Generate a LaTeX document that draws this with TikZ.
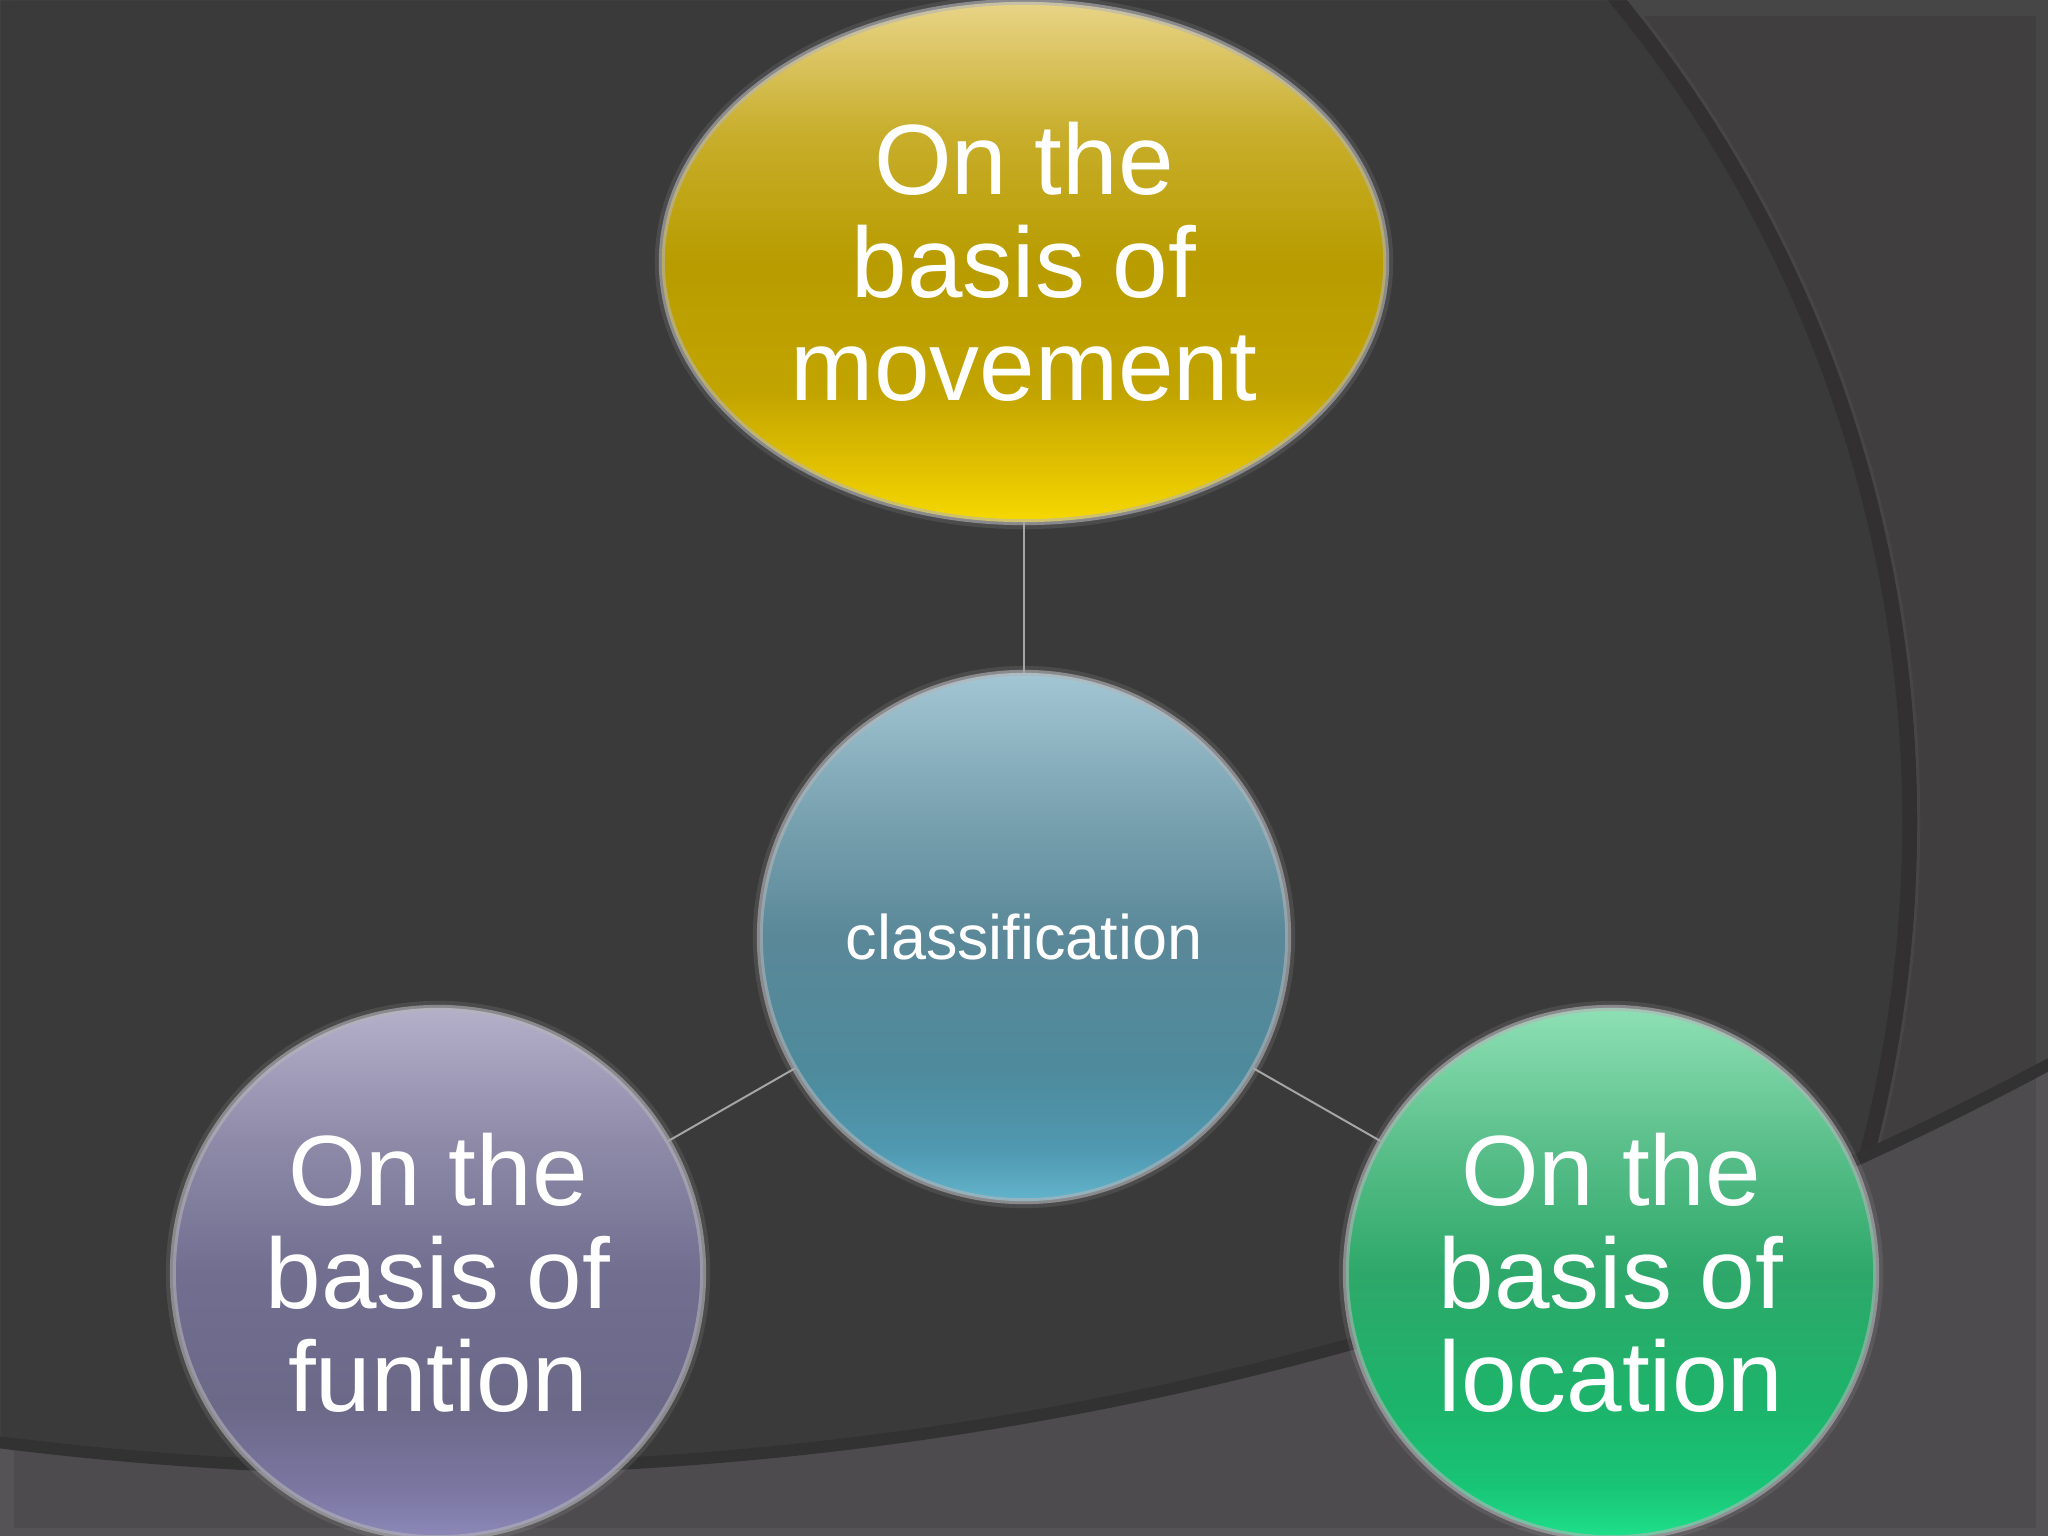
\documentclass[tikz,border=0pt]{standalone}
\usepackage{fontspec}
\setmainfont{Liberation Sans}
\usetikzlibrary{shapes.geometric}

\definecolor{bgdark}{HTML}{3B3A3B}
\definecolor{bgright}{HTML}{403E3F}
\definecolor{stripc}{HTML}{474647}
\definecolor{arcc}{HTML}{323030}
\definecolor{bandc}{HTML}{4D4B4E}
\definecolor{bandstrip}{HTML}{555355}
\definecolor{edgec}{HTML}{333232}
\definecolor{connc}{HTML}{A5A5A5}
\definecolor{ringc}{HTML}{B4B4B8}

% gold
\definecolor{goldA}{HTML}{E8D488}
\definecolor{goldB}{HTML}{C8AE2C}
\definecolor{goldC}{HTML}{B89C00}
\definecolor{goldD}{HTML}{C2A400}
\definecolor{goldE}{HTML}{E2C200}
\definecolor{goldF}{HTML}{F7D900}
% blue
\definecolor{blueA}{HTML}{A3C6D4}
\definecolor{blueB}{HTML}{7CA4B2}
\definecolor{blueC}{HTML}{5A8898}
\definecolor{blueD}{HTML}{4E8A9C}
\definecolor{blueE}{HTML}{4F98B0}
\definecolor{blueF}{HTML}{62B4CC}
% purple
\definecolor{purA}{HTML}{B4B0CA}
\definecolor{purB}{HTML}{8E8AA8}
\definecolor{purC}{HTML}{726E90}
\definecolor{purD}{HTML}{6C6888}
\definecolor{purE}{HTML}{7A76A0}
\definecolor{purF}{HTML}{8C88B8}
% green
\definecolor{grnA}{HTML}{8EE0B4}
\definecolor{grnB}{HTML}{5CC08C}
\definecolor{grnC}{HTML}{2EA86A}
\definecolor{grnD}{HTML}{1CB46A}
\definecolor{grnE}{HTML}{18C476}
\definecolor{grnF}{HTML}{1EE08A}

\pgfdeclareverticalshading{goldsh}{100bp}{color(0bp)=(goldF); color(25bp)=(goldF); color(30bp)=(goldE); color(37.5bp)=(goldD); color(50bp)=(goldC); color(62.5bp)=(goldB); color(75bp)=(goldA); color(100bp)=(goldA)}
\pgfdeclareverticalshading{bluesh}{100bp}{color(0bp)=(blueF); color(25bp)=(blueF); color(30bp)=(blueE); color(37.5bp)=(blueD); color(50bp)=(blueC); color(62.5bp)=(blueB); color(75bp)=(blueA); color(100bp)=(blueA)}
\pgfdeclareverticalshading{pursh}{100bp}{color(0bp)=(purF); color(25bp)=(purF); color(30bp)=(purE); color(37.5bp)=(purD); color(50bp)=(purC); color(62.5bp)=(purB); color(75bp)=(purA); color(100bp)=(purA)}
\pgfdeclareverticalshading{grnsh}{100bp}{color(0bp)=(grnF); color(25bp)=(grnF); color(30bp)=(grnE); color(37.5bp)=(grnD); color(50bp)=(grnC); color(62.5bp)=(grnB); color(75bp)=(grnA); color(100bp)=(grnA)}

\tikzset{
  bubble/.style={circle, minimum size=5.3cm, inner sep=0pt, outer sep=0pt,
    shade, draw=ringc, draw opacity=0.6, line width=0.06cm,
    preaction={draw=ringc, draw opacity=0.14, line width=0.14cm},
    text=white, align=center, font=\fontsize{28.4}{29.3}\selectfont},
  conn/.style={draw=connc, line width=0.02cm}
}

\begin{document}
\begin{tikzpicture}[x=0.01cm, y=-0.01cm]
\useasboundingbox (0,0) rectangle (2048,1536);

% ---------- background ----------
\begin{scope}
  \clip (0,0) rectangle (2048,1536);
  \fill[bgdark] (0,0) rectangle (2048,1536);
  \fill[bgright, even odd rule] (0,0) rectangle (2048,1536) (608,822) circle[radius=13.01cm];
  \begin{scope}[even odd rule]
    \clip (0,0) rectangle (2048,1536) (608,822) circle[radius=13.01cm];
    \fill[stripc] (0,0) rectangle (2048,16);
    \fill[stripc] (2036,0) rectangle (2048,1536);
  \end{scope}
  \draw[arcc, line width=0.15cm] (608,822) circle[radius=13.01cm];
  \draw[stripc, line width=0.03cm] (608,822) circle[radius=13.1cm];
  % lower band
  \fill[bandc, even odd rule] (0,0) rectangle (2048,1536) (430,-1967) circle[radius=34.34cm];
  \begin{scope}[even odd rule]
    \clip (0,0) rectangle (2048,1536) (430,-1967) circle[radius=34.34cm];
    \fill[bandstrip] (0,0) rectangle (14,1536);
    \fill[bandstrip] (2036,0) rectangle (2048,1536);
    \fill[bandstrip] (0,1528) rectangle (2048,1536);
  \end{scope}
  \draw[edgec, line width=0.12cm] (430,-1967) circle[radius=34.34cm];
\end{scope}

% ---------- nodes ----------
\node[bubble, ellipse, minimum width=7.24cm, minimum height=5.2cm, shading=goldsh]
  (move) at (1024,262) {On the\\basis of\\movement};
\node[bubble, minimum size=5.28cm, shading=bluesh, font=\fontsize{17.9}{21}\selectfont]
  (cls) at (1024,937) {classification};
\node[bubble, shading=pursh] (func) at (438,1273) {On the\\basis of\\funtion};
\node[bubble, shading=grnsh] (loc) at (1611,1273) {On the\\basis of\\location};

% ---------- connectors ----------
\draw[conn] (move) -- (cls);
\draw[conn] (cls) -- (func);
\draw[conn] (cls) -- (loc);
\end{tikzpicture}
\end{document}
